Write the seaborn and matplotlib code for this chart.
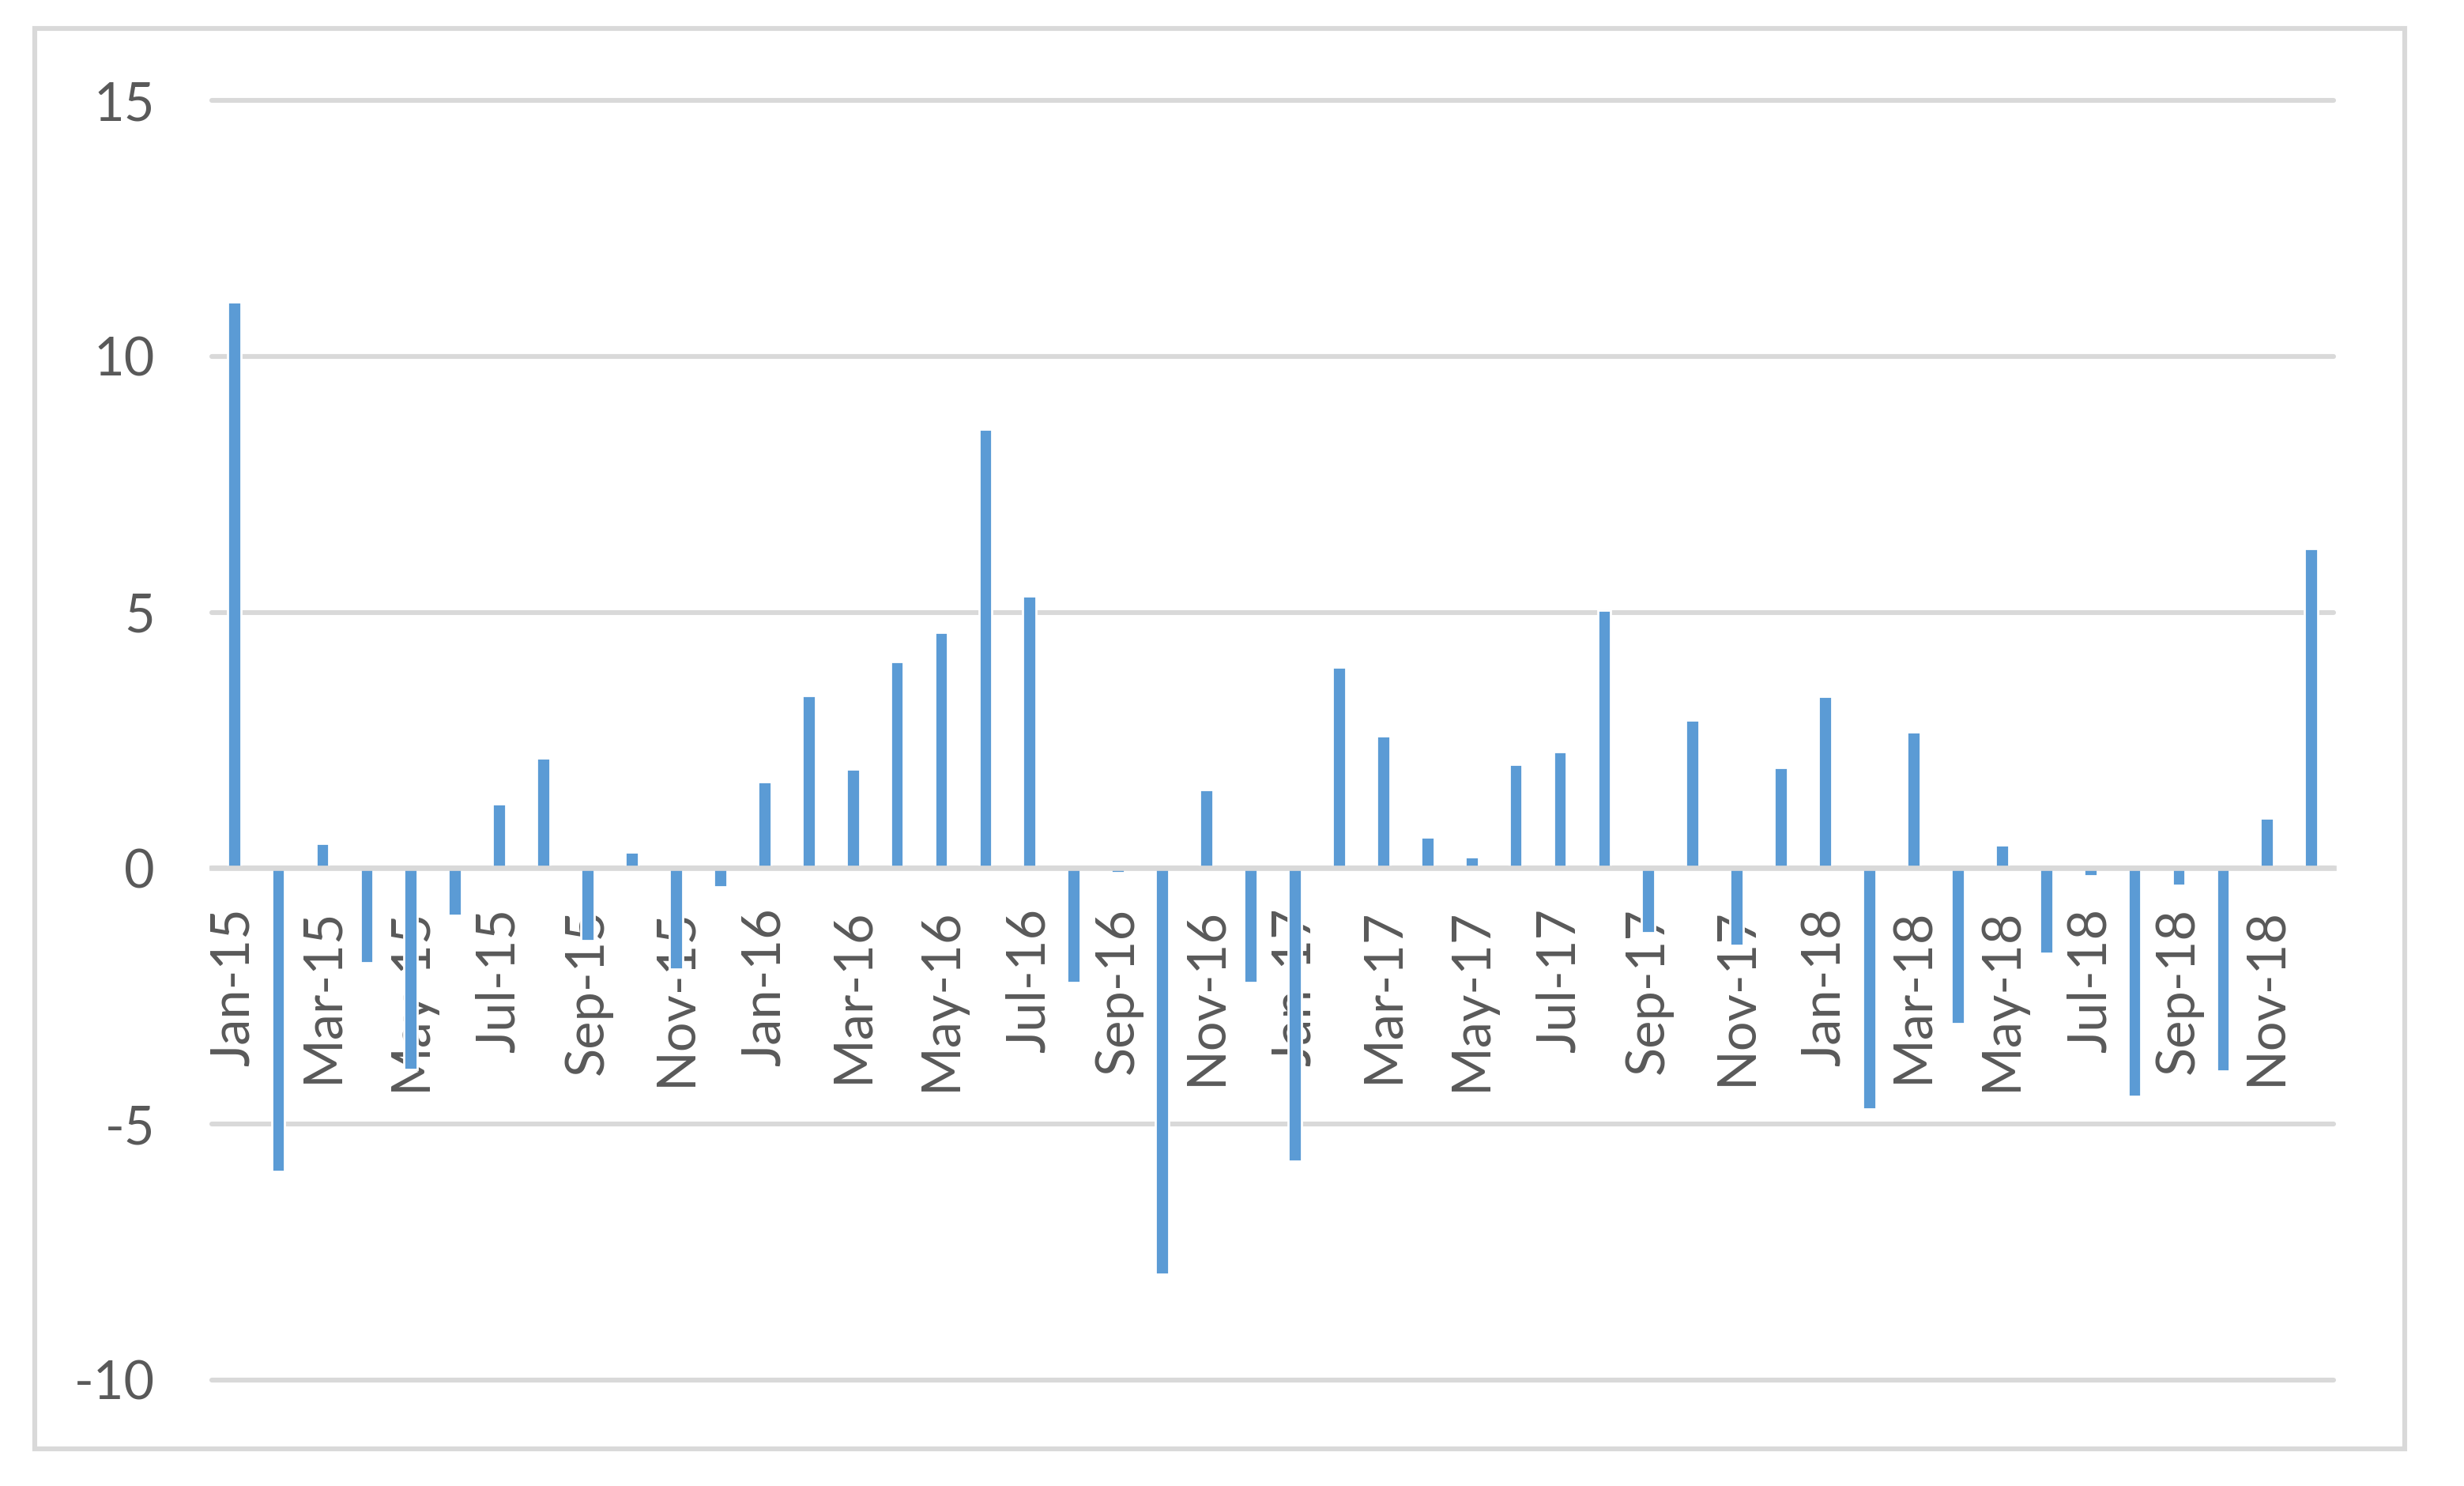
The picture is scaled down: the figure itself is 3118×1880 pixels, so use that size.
import matplotlib
matplotlib.use('Agg')
import numpy as np
import pandas as pd
import matplotlib.pyplot as plt
import seaborn as sns
from matplotlib.patches import Rectangle

# categorias: meses Jan-15 .. Dec-18
month_names = ['Jan', 'Feb', 'Mar', 'Apr', 'May', 'Jun',
               'Jul', 'Aug', 'Sep', 'Oct', 'Nov', 'Dec']
years = ['15', '16', '17', '18']
months = [f'{m}-{y}' for y in years for m in month_names]

values = [
    11.07, -5.93, 0.49, -1.84, -3.93, -0.92, 1.26, 2.15, -1.41, 0.31, -1.97, -0.37,
    1.69, 3.38, 1.94, 4.03, 4.61, 8.58, 5.32, -2.24, -0.09, -7.93, 1.54, -2.24,
    -5.72, 3.93, 2.58, 0.61, 0.22, 2.03, 2.27, 5.04, -1.26, 2.89, -1.51, 1.97,
    3.35, -4.70, 2.67, -3.04, 0.46, -1.66, -0.15, -4.46, -0.34, -3.97, 0.98, 6.24,
]

y_ticks = [-10, -5, 0, 5, 10, 15]

df = pd.DataFrame({'mes': months, 'valor': values})

sns.set_style('white')
plt.rcParams['font.family'] = ['Lato', 'DejaVu Sans']

grid_col = '#D9D9D9'
text_col = '#595959'

fig = plt.figure(figsize=(15.59, 9.4), dpi=200)
ax = fig.add_axes([0.086, 0.0713, 0.861, 0.8611])

sns.barplot(data=df, x='mes', y='valor', order=months, color='#5B9BD5',
            saturation=1, width=0.3, errorbar=None, ax=ax, zorder=3)

ax.set_xlim(-0.5, len(months) - 0.5)
ax.set_ylim(-10, 15)
ax.set_xlabel('')
ax.set_ylabel('')

# etiquetas cada dos meses
ax.set_xticks(range(0, len(months), 2))
ax.set_xticklabels(months[::2])
ax.set_xticks(np.arange(-0.5, len(months), 2), minor=True)
ax.tick_params(axis='x', which='major', length=0, pad=18, labelsize=24,
               labelrotation=90, labelcolor=text_col)
ax.tick_params(axis='x', which='minor', length=8, width=2.2, color=grid_col,
               direction='out')

ax.set_yticks(y_ticks)
ax.set_yticklabels([str(v) for v in y_ticks])
ax.tick_params(axis='y', length=0, pad=26, labelsize=24, labelcolor=text_col)

ax.yaxis.grid(True, color=grid_col, lw=2.2)
ax.xaxis.grid(False)
ax.set_axisbelow(True)
for gl in ax.get_ygridlines():
    gl.set_clip_on(False)

for s in ['left', 'right', 'top']:
    ax.spines[s].set_visible(False)
ax.spines['bottom'].set_position(('data', 0))
ax.spines['bottom'].set_color(grid_col)
ax.spines['bottom'].set_linewidth(2.4)
ax.spines['bottom'].set_zorder(4)

# borde exterior del grafico
fig.patches.append(Rectangle((0.0141, 0.025), 0.9618, 0.956, transform=fig.transFigure,
                             fill=False, edgecolor=grid_col, lw=2.2))

fig.savefig('out.png', dpi=200, facecolor='white')
